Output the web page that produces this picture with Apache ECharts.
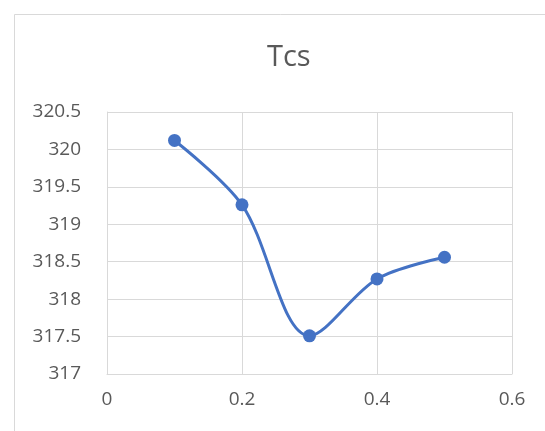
<!DOCTYPE html>
<html><head><meta charset="utf-8">
<script src="https://cdn.jsdelivr.net/npm/echarts@6/dist/echarts.min.js"></script>
<style>html,body{margin:0;padding:0;background:#fff}#c{width:545px;height:431px}</style>
</head><body><div id="c"></div>
<script>
const title = "Tcs";
const xValues = [0.1, 0.2, 0.3, 0.4, 0.5];
const yValues = [320.12, 319.26, 317.51, 318.27, 318.56];
const xMin = 0, xMax = 0.6, xStep = 0.2;
const yMin = 317, yMax = 320.5, yStep = 0.5;

const chart = echarts.init(document.getElementById('c'), null, {renderer: 'canvas'});
const font = 'Open Sans';
const gray = '#d9d9d9';
chart.setOption({
  animation: false,
  backgroundColor: '#fff',
  graphic: [{type: 'rect', left: 12, top: 12, shape: {width: 560, height: 440}, style: {fill: 'none', stroke: gray, lineWidth: 1}}],
  title: {text: title, left: 262, top: 38, textStyle: {fontFamily: font, fontSize: 29, fontWeight: 'normal', color: '#595959'}},
  grid: {left: 107, right: 33, top: 112, bottom: 57},
  xAxis: {type: 'value', min: xMin, max: xMax, interval: xStep,
    axisLine: {show: true, lineStyle: {color: gray, width: 1}}, axisTick: {show: false},
    splitLine: {show: true, lineStyle: {color: gray, width: 1}},
    axisLabel: {fontFamily: font, fontSize: 19, color: '#595959', margin: 16}},
  yAxis: {type: 'value', min: yMin, max: yMax, interval: yStep,
    axisLine: {show: true, lineStyle: {color: gray, width: 1}}, axisTick: {show: false},
    splitLine: {show: true, lineStyle: {color: gray, width: 1}},
    axisLabel: {fontFamily: font, fontSize: 19, color: '#595959', margin: 26}},
  series: [{type: 'line', smooth: 0.33, data: xValues.map((x, i) => [x, yValues[i]]),
    symbol: 'circle', symbolSize: 13,
    lineStyle: {color: '#4472C4', width: 3}, itemStyle: {color: '#4472C4'}}]
});
</script></body></html>
